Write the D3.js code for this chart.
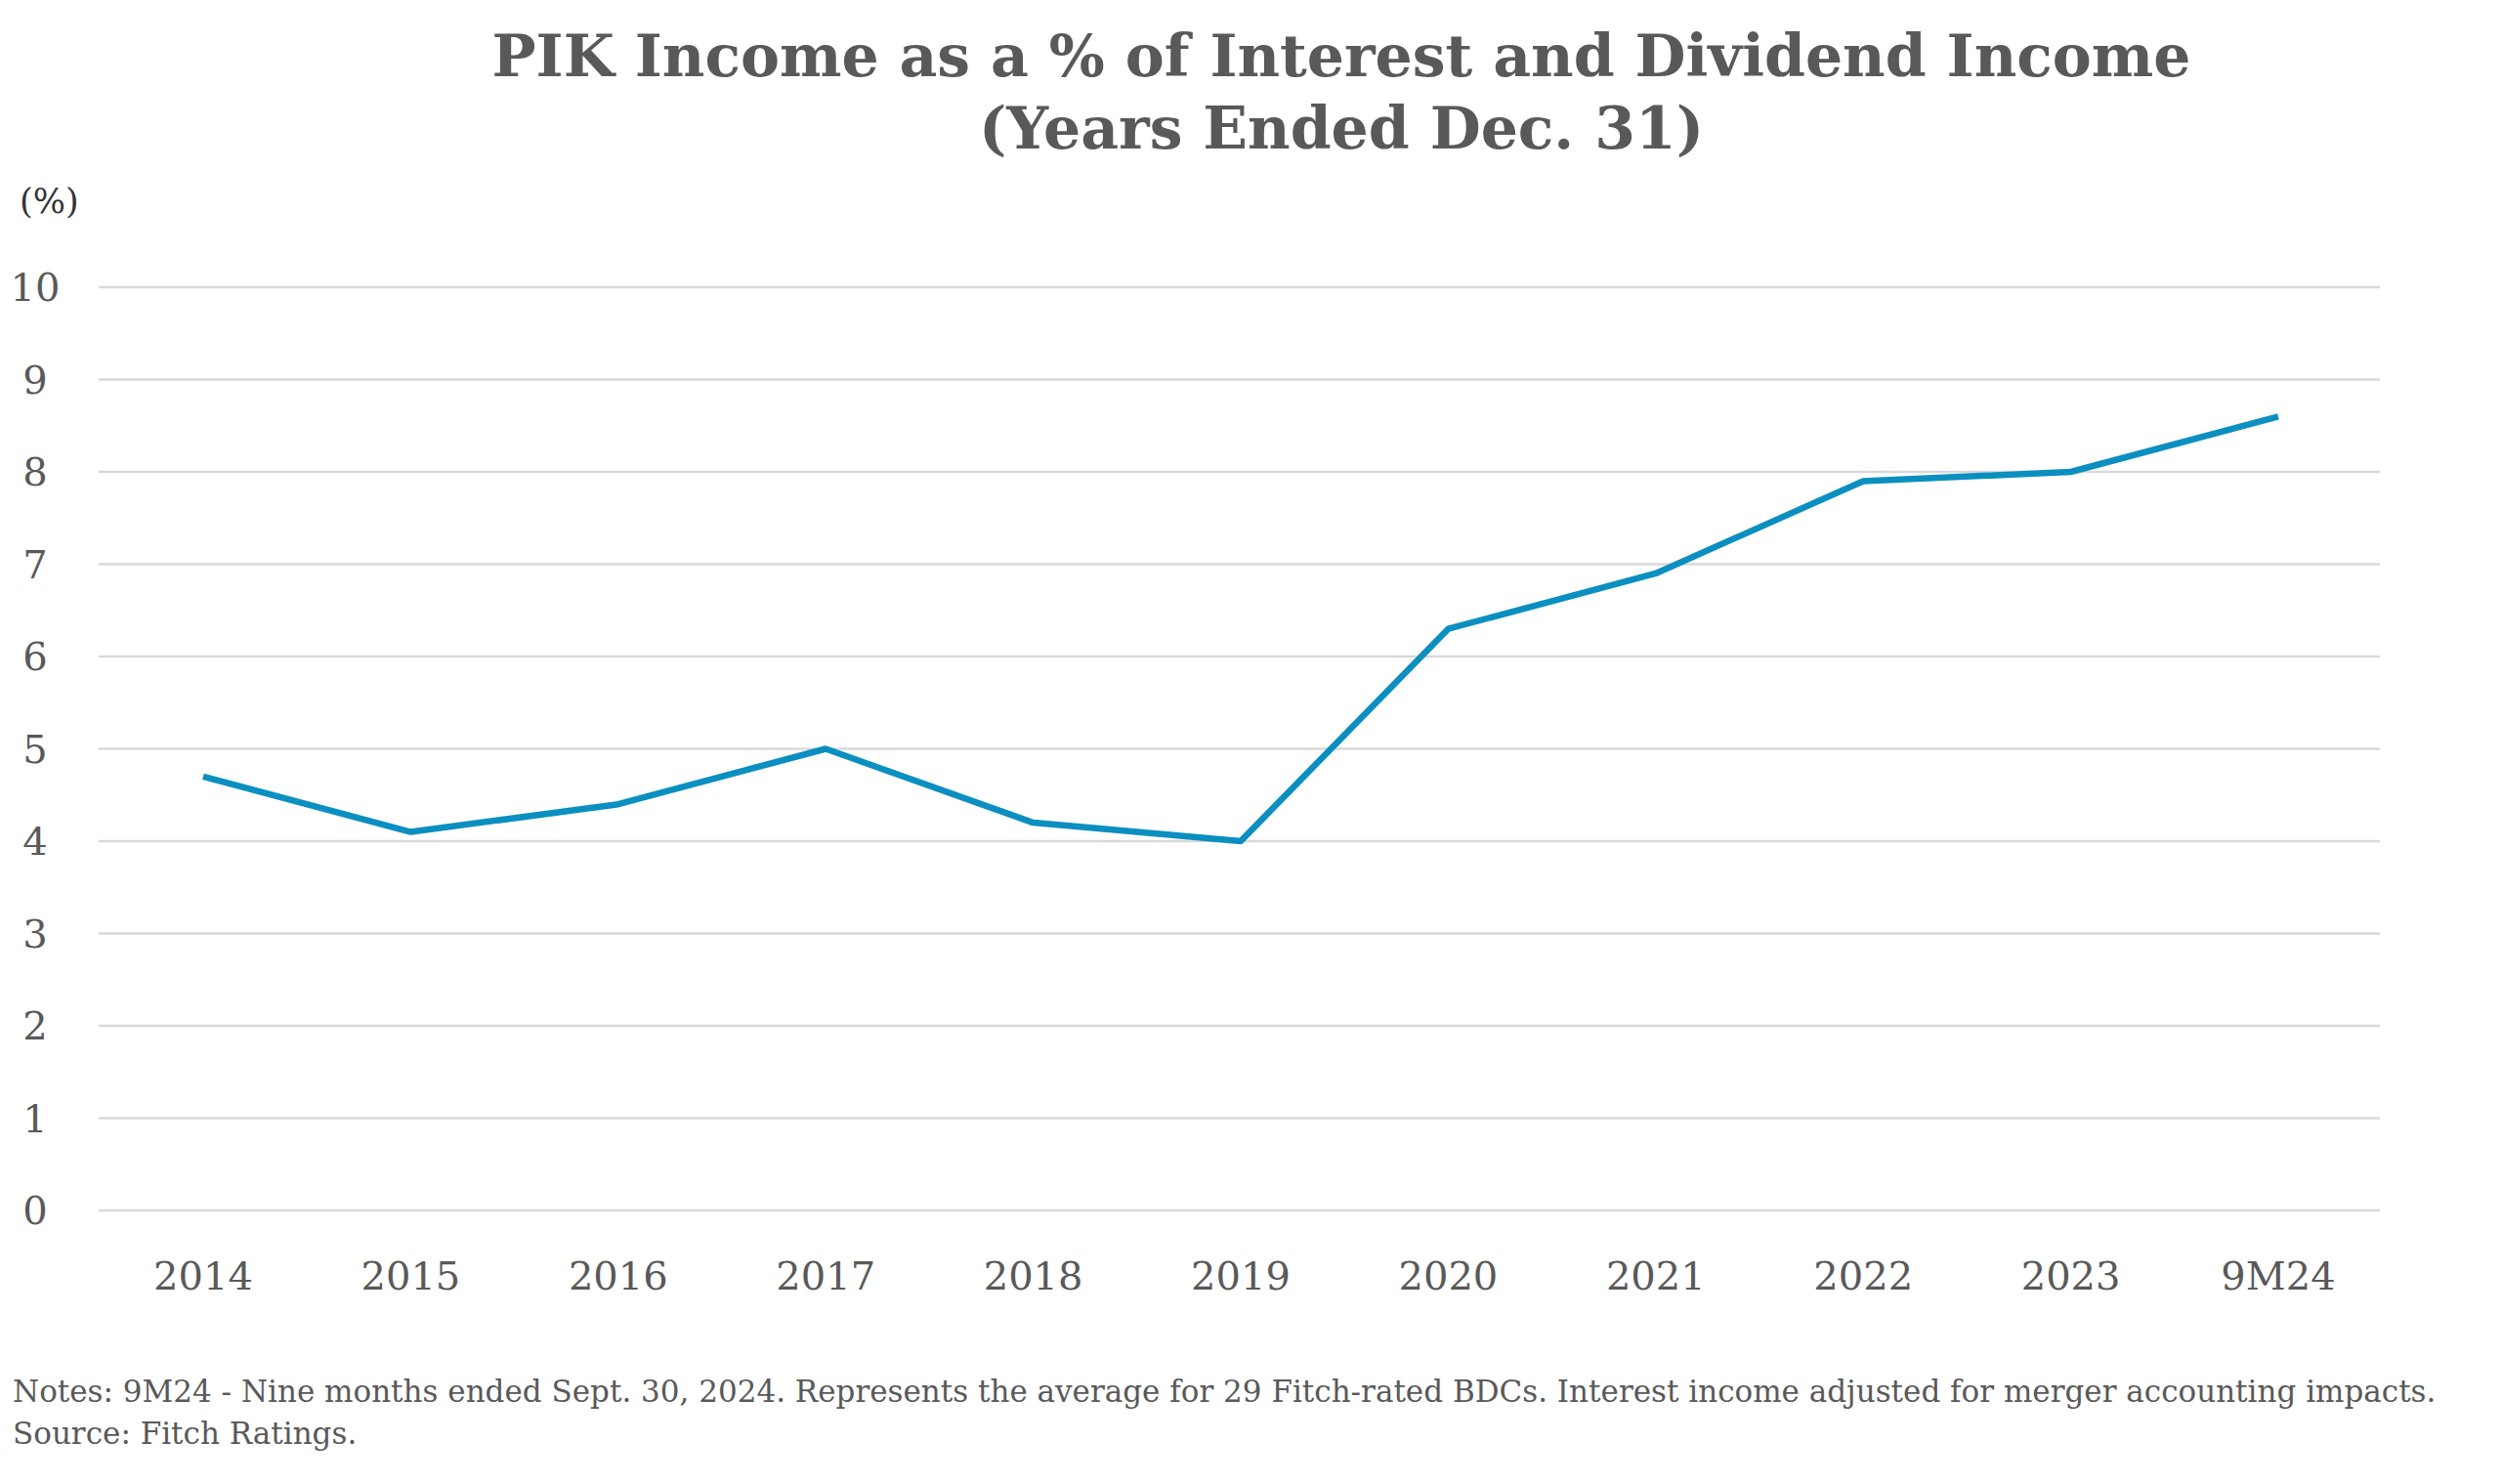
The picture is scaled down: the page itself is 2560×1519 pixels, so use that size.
<!DOCTYPE html>
<html><head><meta charset="utf-8">
<script src="https://cdn.jsdelivr.net/npm/d3@7"></script>
<style>body{margin:0;background:#fff}</style>
</head><body>
<script>
const categories = ["2014","2015","2016","2017","2018","2019","2020","2021","2022","2023","9M24"];
const pikShare = [4.7, 4.1, 4.4, 5.0, 4.2, 4.0, 6.3, 6.9, 7.9, 8.0, 8.6];
const yTicks = [0,1,2,3,4,5,6,7,8,9,10];

const W = 2560, H = 1519;
const serif = "'DejaVu Serif', 'Liberation Serif', serif";
const grey = "#595959";

const svg = d3.select('body').append('svg')
  .attr('width', W).attr('height', H);

const x = d3.scalePoint().domain(categories).range([208, 2332]);
const y = d3.scaleLinear().domain([0, 10]).range([1239, 294]);

// gridlines
svg.append('g').selectAll('line')
  .data(yTicks)
  .enter().append('line')
  .attr('x1', 101).attr('x2', 2436)
  .attr('y1', d => y(d)).attr('y2', d => y(d))
  .attr('stroke', '#d9d9d9').attr('stroke-width', 2.5);

// y labels
svg.append('g').selectAll('text')
  .data(yTicks)
  .enter().append('text')
  .attr('x', 36).attr('y', d => y(d))
  .attr('dy', '0.35em')
  .attr('text-anchor', 'middle')
  .attr('font-family', serif).attr('font-size', 40).attr('fill', grey)
  .text(d => d);

// x labels
svg.append('g').selectAll('text')
  .data(categories)
  .enter().append('text')
  .attr('x', d => x(d)).attr('y', 1320)
  .attr('text-anchor', 'middle')
  .attr('font-family', serif).attr('font-size', 40).attr('fill', grey)
  .text(d => d);

const line = d3.line()
  .x((d, i) => x(categories[i]))
  .y(d => y(d));

svg.append('path')
  .datum(pikShare)
  .attr('d', line)
  .attr('fill', 'none')
  .attr('stroke', '#0a8fc0')
  .attr('stroke-width', 6.5)
  .attr('stroke-linejoin', 'round');

// titles
const title = svg.append('text')
  .attr('text-anchor', 'middle')
  .attr('font-family', serif).attr('font-weight', 'bold')
  .attr('font-size', 60).attr('fill', grey);
title.append('tspan').attr('x', 1373).attr('y', 78)
  .text('PIK Income as a % of Interest and Dividend Income');
title.append('tspan').attr('x', 1373).attr('y', 152)
  .text('(Years Ended Dec. 31)');

svg.append('text')
  .attr('x', 20).attr('y', 218)
  .attr('font-family', serif).attr('font-size', 35).attr('fill', '#333')
  .text('(%)');

svg.append('text')
  .attr('x', 13).attr('y', 1435)
  .attr('font-family', serif).attr('font-size', 31).attr('fill', grey)
  .text('Notes: 9M24 - Nine months ended Sept. 30, 2024. Represents the average for 29 Fitch-rated BDCs. Interest income adjusted for merger accounting impacts.');
svg.append('text')
  .attr('x', 13).attr('y', 1478)
  .attr('font-family', serif).attr('font-size', 31).attr('fill', grey)
  .text('Source: Fitch Ratings.');
</script>
</body></html>
